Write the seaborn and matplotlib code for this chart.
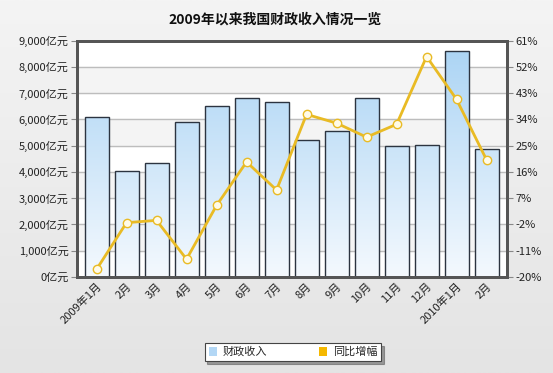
import numpy as np
import pandas as pd
import matplotlib
matplotlib.use("Agg")
import matplotlib.pyplot as plt
from matplotlib.colors import LinearSegmentedColormap
from matplotlib.patches import Patch
import seaborn as sns

months = ["2009年1月", "2月", "3月", "4月", "5月", "6月", "7月", "8月",
          "9月", "10月", "11月", "12月", "2010年1月", "2月"]
revenue = [6100, 4050, 4350, 5880, 6520, 6830, 6670, 5200,
           5570, 6830, 5000, 5040, 8610, 4890]
growth = [-17.4, -1.4, -0.6, -13.9, 4.5, 19.4, 9.8, 35.7,
          32.7, 27.9, 32.3, 55.5, 40.8, 20.1]
left_ticks = list(range(0, 9001, 1000))
right_ticks = [-20, -11, -2, 7, 16, 25, 34, 43, 52, 61]

sns.set_theme(style="white")
plt.rcParams['font.family'] = ['Noto Sans CJK SC', 'DejaVu Sans']

df = pd.DataFrame({"month": months, "revenue": revenue, "growth": growth,
                   "pos": np.arange(len(months))})

fig = plt.figure(figsize=(5.53, 3.73), dpi=100)
# background gradient
bg = fig.add_axes([0, 0, 1, 1], zorder=-10)
grad = np.linspace(0, 1, 256).reshape(-1, 1)
bg.imshow(grad, aspect="auto", extent=[0, 1, 0, 1],
          cmap=LinearSegmentedColormap.from_list("bg", ["#e4e4e4", "#f4f4f4"]),
          origin="lower")
bg.axis("off")

ax = fig.add_axes([77/553, 1-277/373, (507-77)/553, (277-40.5)/373])
ax.set_facecolor("white")

sns.barplot(data=df, x="pos", y="revenue", ax=ax, width=0.8,
            color="#b3d7f5", edgecolor="#2c3440", linewidth=1.0, zorder=2)
bars = list(ax.containers[0])

ax.set_xlim(-0.65, 13.68)
ax.set_ylim(0, 9000)

for i in range(1, 9, 2):
    ax.axhspan(i*1000, (i+1)*1000, color="#f4f4f4", zorder=0)
for t in left_ticks[1:-1]:
    ax.axhline(t, color="#bdbdbd", lw=1.0, zorder=0.5)

# gradient fill on bars
cmap = LinearSegmentedColormap.from_list("bar", ["#f4f9fe", "#a9d3f4"])
for p in bars:
    x0 = p.get_x()
    w = p.get_width()
    im = ax.imshow(grad, aspect="auto", extent=[x0, x0 + w, 0, 9000],
                   cmap=cmap, origin="lower", zorder=2.1)
    im.set_clip_path(p)
    p.set_facecolor("none")
    p.set_zorder(2.2)
ax.set_xlim(-0.65, 13.68)
ax.set_ylim(0, 9000)

ax.set_xticks(range(len(months)))
ax.set_xticklabels(months)
ax.set_yticks(left_ticks)
ax.set_yticklabels([f"{v:,}亿元" for v in left_ticks])
ax.set_xlabel("")
ax.set_ylabel("")
ax.tick_params(axis="y", length=4, width=0.8, color="#888888", labelsize=8, pad=2,
               left=True, labelcolor="#222222")
ax.tick_params(axis="x", length=0, labelsize=8, pad=3, labelcolor="#222222")
plt.setp(ax.get_xticklabels(), rotation=45, ha="right", rotation_mode="anchor")

ax2 = ax.twinx()
sns.lineplot(data=df, x="pos", y="growth", ax=ax2, color="#e9bb25", lw=2,
             marker="o", markersize=6, markerfacecolor="#fffbe8",
             markeredgecolor="#e9bb25", markeredgewidth=1.0, zorder=5)
ax2.set_ylim(-20, 61)
ax2.set_xlim(-0.65, 13.68)
ax2.set_yticks(right_ticks)
ax2.set_yticklabels([f"{v}%" for v in right_ticks])
ax2.set_ylabel("")
ax2.set_xlabel("")
ax2.tick_params(axis="y", length=4, width=0.8, color="#888888", labelsize=8, pad=2,
                right=True, labelcolor="#222222")

for a in (ax, ax2):
    for s in a.spines.values():
        s.set_color("#555555")
        s.set_linewidth(2)

fig.text(275/553, 1-20/373, "2009年以来我国财政收入情况一览", ha="center", va="center",
         fontsize=10, fontweight="bold", color="#111111")

handles = [Patch(facecolor="#b3d7f5", edgecolor="none", label="财政收入"),
           Patch(facecolor="#f5b800", edgecolor="none", label="同比增幅")]
leg = fig.legend(handles=handles, loc="center", bbox_to_anchor=(293/553, 1-352/373),
                 ncol=2, fontsize=8, frameon=True, fancybox=False, shadow=True,
                 handlelength=0.8, handleheight=0.8, columnspacing=4.6,
                 borderpad=0.35, handletextpad=0.5)
leg.get_frame().set_edgecolor("#444444")
leg.get_frame().set_linewidth(0.8)

fig.savefig("out.png", dpi=100)
